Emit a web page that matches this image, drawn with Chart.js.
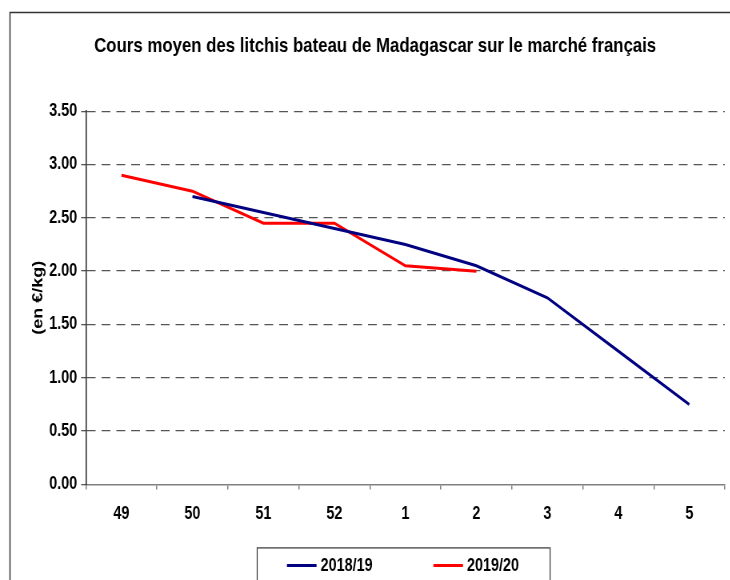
<!DOCTYPE html>
<html>
<head>
<meta charset="utf-8">
<script src="https://cdn.jsdelivr.net/npm/chart.js@4.4.1/dist/chart.umd.min.js"></script>
<style>
  body { margin: 0; background: #fff; }
  #wrap { width: 730px; height: 580px; position: relative; overflow: hidden; }
  /* the original chart is squeezed sideways, so draw wide and compress */
  #chart { width: 913px; height: 580px; transform: scaleX(0.8); transform-origin: 0 0; }
</style>
</head>
<body>
<div id="wrap"><canvas id="chart" width="913" height="580"></canvas></div>
<script>
const weeks = ["49", "50", "51", "52", "1", "2", "3", "4", "5"];
const prices1819 = [null, 2.70, 2.55, 2.40, 2.25, 2.05, 1.75, 1.25, 0.75];
const prices1920 = [2.90, 2.75, 2.45, 2.45, 2.05, 2.00, null, null, null];
const yTicks = [0, 0.5, 1, 1.5, 2, 2.5, 3, 3.5];

const font = "'Liberation Sans', Arial, sans-serif";

// frame round the whole chart + legend box below the plot
const framePlugin = {
    id: "frame",
    beforeDraw(chart) {
        const ctx = chart.ctx;
        ctx.save();
        ctx.strokeStyle = "#333";
        ctx.lineWidth = 1.5;
        ctx.strokeRect(12.5, 12.5, chart.width + 20, chart.height + 20);
        ctx.restore();
    },
    afterDraw(chart) {
        const ctx = chart.ctx;
        const area = chart.chartArea;
        const sets = chart.data.datasets;
        ctx.save();
        ctx.font = "bold 18px " + font;
        ctx.textBaseline = "middle";
        const lineW = 37, gap = 5, between = 76, pad = 38;
        const widths = sets.map((d) => ctx.measureText(d.label).width);
        const total = sets.length * (lineW + gap) + widths.reduce((a, b) => a + b, 0) + between * (sets.length - 1);
        const cx = (area.left + area.right) / 2 - 3;
        const top = area.bottom + 63;
        const cy = top + 18;
        ctx.strokeStyle = "#333";
        ctx.lineWidth = 1.2;
        ctx.strokeRect(Math.round(cx - total / 2 - pad) + 0.5, top + 0.5, total + pad * 2, 60);
        let x = cx - total / 2;
        sets.forEach((d, i) => {
            ctx.strokeStyle = d.borderColor;
            ctx.lineWidth = 3;
            ctx.beginPath();
            ctx.moveTo(x, cy);
            ctx.lineTo(x + lineW, cy);
            ctx.stroke();
            x += lineW + gap;
            ctx.fillStyle = "#000";
            ctx.fillText(d.label, x, cy + 1);
            x += widths[i] + between;
        });
        ctx.restore();
    }
};

const ctx = document.getElementById("chart").getContext("2d");

new Chart(ctx, {
    type: "line",
    data: {
        labels: weeks,
        datasets: [
            {
                label: "2018/19",
                data: prices1819,
                borderColor: "#000080",
                borderWidth: 3,
                pointRadius: 0,
                tension: 0
            },
            {
                label: "2019/20",
                data: prices1920,
                borderColor: "#ff0000",
                borderWidth: 3,
                pointRadius: 0,
                tension: 0
            }
        ]
    },
    options: {
        responsive: false,
        animation: false,
        layout: { padding: { left: 32, right: 7, top: 0, bottom: 41 } },
        plugins: {
            legend: { display: false },
            tooltip: { enabled: false },
            title: {
                display: true,
                text: "Cours moyen des litchis bateau de Madagascar sur le marché français",
                color: "#000",
                font: { family: font, size: 21, weight: "bold" },
                padding: { top: 34, bottom: 52 }
            }
        },
        scales: {
            x: {
                offset: true,
                border: { display: true, color: "#808080", width: 1.5 },
                grid: { display: true, drawOnChartArea: false, offset: true, tickLength: 5, color: "#808080", lineWidth: 1.5 },
                ticks: { color: "#000", padding: 14, font: { family: font, size: 18, weight: "bold" } }
            },
            y: {
                min: 0,
                max: 3.5,
                afterFit(scale) { scale.width = 75.5; },
                afterBuildTicks(scale) { scale.ticks = yTicks.map((v) => ({ value: v })); },
                border: { display: true, color: "#222", width: 1.5, dash: [11, 7.5] },
                grid: {
                    color: (c) => (c.index === 0 ? "rgba(0,0,0,0)" : "#555"),
                    lineWidth: 1.3,
                    tickLength: 6,
                    tickColor: "#555",
                    tickBorderDash: []
                },
                ticks: {
                    color: "#000",
                    padding: 5,
                    font: { family: font, size: 18, weight: "bold" },
                    callback: (v) => Number(v).toFixed(2)
                },
                title: {
                    display: true,
                    text: "(en €/kg)",
                    color: "#000",
                    font: { family: font, size: 18, weight: "bold" },
                    padding: { top: 5, bottom: 4 }
                }
            }
        }
    },
    plugins: [framePlugin]
});
</script>
</body>
</html>
